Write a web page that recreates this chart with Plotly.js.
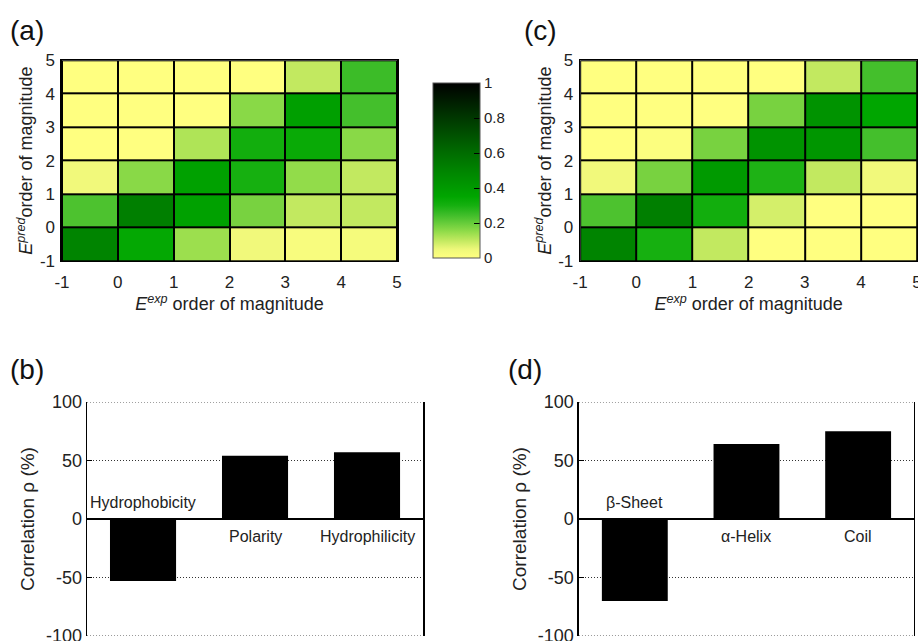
<!DOCTYPE html>
<html>
<head>
<meta charset="utf-8">
<script src="https://cdn.plot.ly/plotly-3.0.1.min.js"></script>
<style>html,body{margin:0;padding:0;background:#fff;}#chart{width:918px;height:641px;}</style>
</head>
<body>
<div id="chart"></div>
<script>
// Heatmap cell edges (order of magnitude)
const cellEdges = [-1, 0, 1, 2, 3, 4, 5];
const tickVals = [-1, 0, 1, 2, 3, 4, 5];
const tickText = ['-1', '0', '1', '2', '3', '4', '5'];

// Panel (a): rows from Epred=-1..0 (bottom) up to 4..5 (top); columns Eexp=-1..0 .. 4..5
const zA = [
  [0.50, 0.34, 0.14, 0.04, 0.02, 0.03],
  [0.23, 0.52, 0.37, 0.18, 0.10, 0.10],
  [0.04, 0.16, 0.37, 0.30, 0.15, 0.10],
  [0.00, 0.00, 0.12, 0.31, 0.33, 0.16],
  [0.00, 0.00, 0.00, 0.16, 0.38, 0.24],
  [0.00, 0.00, 0.00, 0.00, 0.10, 0.25]
];
// Panel (c)
const zC = [
  [0.50, 0.30, 0.10, 0.00, 0.00, 0.00],
  [0.23, 0.52, 0.31, 0.08, 0.00, 0.00],
  [0.04, 0.18, 0.40, 0.29, 0.10, 0.04],
  [0.00, 0.01, 0.18, 0.43, 0.42, 0.24],
  [0.00, 0.00, 0.00, 0.18, 0.43, 0.35],
  [0.00, 0.00, 0.00, 0.00, 0.10, 0.24]
];
const cbTicks = [0, 0.2, 0.4, 0.6, 0.8, 1];

// Panel (b)
const catsB = ['Hydrophobicity', 'Polarity', 'Hydrophilicity'];
const valsB = [-53, 54, 57];
// Panel (d)
const catsD = ['β-Sheet', 'α-Helix', 'Coil'];
const valsD = [-70, 64, 75];
const corrTicks = [-100, -50, 0, 50, 100];
const corrText = ['-100', '-50', '0', '50', '100'];

const FONT = 'Liberation Sans, Arial, Helvetica, sans-serif';
const TXT = '#222';

const colorscale = [
  [0.00, '#ffff80'], [0.05, '#eef87a'], [0.10, '#c2e960'], [0.15, '#92dc4a'],
  [0.20, '#66cc3a'], [0.25, '#3cbc28'], [0.30, '#16b010'], [0.35, '#00a600'],
  [0.40, '#009a00'], [0.50, '#008400'], [0.60, '#006c00'], [0.80, '#003800'],
  [1.00, '#000000']
];

const traces = [
  {type: 'heatmap', x: cellEdges, y: cellEdges, z: zA, coloraxis: 'coloraxis',
   xgap: 2, ygap: 2, xaxis: 'x', yaxis: 'y', hoverinfo: 'skip'},
  {type: 'heatmap', x: cellEdges, y: cellEdges, z: zC, coloraxis: 'coloraxis',
   xgap: 2, ygap: 2, xaxis: 'x2', yaxis: 'y2', hoverinfo: 'skip'},
  {type: 'bar', x: catsB, y: valsB, width: 0.59, marker: {color: '#000', line: {width: 0}},
   xaxis: 'x3', yaxis: 'y3', hoverinfo: 'skip'},
  {type: 'bar', x: catsD, y: valsD, width: 0.59, marker: {color: '#000', line: {width: 0}},
   xaxis: 'x4', yaxis: 'y4', hoverinfo: 'skip'}
];

function hmX(domain, anchor) {
  return {domain: domain, anchor: anchor, range: [-1, 5], tickvals: tickVals, ticktext: tickText,
    ticks: 'outside', ticklen: 5, tickcolor: 'rgba(0,0,0,0)', ticklabeloverflow: 'allow',
    showline: true, mirror: true, linecolor: '#000', linewidth: 1.5,
    showgrid: false, zeroline: false, tickfont: {size: 17, color: TXT},
    title: {text: '<i>E</i><sup><i>exp</i></sup> order of magnitude', font: {size: 18, color: TXT}, standoff: 4}};
}
function hmY(domain, anchor) {
  return {domain: domain, anchor: anchor, range: [-1, 5], tickvals: tickVals, ticktext: tickText,
    ticks: 'outside', ticklen: 2, tickcolor: 'rgba(0,0,0,0)', ticklabeloverflow: 'allow',
    showline: true, mirror: true, linecolor: '#000', linewidth: 1.5,
    showgrid: false, zeroline: false, tickfont: {size: 17, color: TXT},
    title: {text: '<i>E</i><sup><i>pred</i></sup>order of magnitude', font: {size: 18, color: TXT}, standoff: 2}};
}
function barX(domain, anchor) {
  return {domain: domain, anchor: anchor, showticklabels: false, ticks: '', showline: false,
    showgrid: false, zeroline: false};
}
function barY(domain, anchor) {
  return {domain: domain, anchor: anchor, range: [-100, 100], tickvals: corrTicks, ticktext: corrText,
    ticks: 'inside', ticklen: 5, tickcolor: '#000', tickwidth: 1, ticklabeloverflow: 'allow',
    showline: true, mirror: true, linecolor: '#000', linewidth: 1.5,
    showgrid: true, gridcolor: '#333', griddash: '1px,2px', gridwidth: 1,
    zeroline: true, zerolinecolor: '#000', zerolinewidth: 1.5,
    tickfont: {size: 18, color: TXT},
    title: {text: 'Correlation ρ (%)', font: {size: 19, color: TXT}, standoff: 6}};
}

const annotations = [];
function addBarLabels(cats, vals, xref, yref) {
  cats.forEach((c, i) => {
    annotations.push({xref: xref, yref: yref, x: c, y: vals[i] < 0 ? 14 : -15, text: c,
      showarrow: false, font: {size: 16, color: TXT, family: FONT}});
  });
}
addBarLabels(catsB, valsB, 'x3', 'y3');
addBarLabels(catsD, valsD, 'x4', 'y4');
[['(a)', 0.009, 0.953], ['(c)', 0.569, 0.953], ['(b)', 0.009, 0.423], ['(d)', 0.551, 0.423]].forEach(p => {
  annotations.push({xref: 'paper', yref: 'paper', x: p[1], y: p[2], xanchor: 'left', yanchor: 'middle',
    text: p[0], showarrow: false, font: {size: 28, color: '#111', family: FONT}});
});

const shapes = [];
// black backing so heatmap gaps appear as black cell borders
[['x', 'y'], ['x2', 'y2']].forEach(([xr, yr]) => shapes.push({type: 'rect', xref: xr + ' domain', yref: yr + ' domain',
  x0: 0, x1: 1, y0: 0, y1: 1, fillcolor: '#000', line: {width: 0}, layer: 'below'}));
// dotted grid lines at the range ends (Plotly omits edge gridlines)
[['x3', 'y3'], ['x4', 'y4']].forEach(([xr, yr]) => {
  [corrTicks[0], corrTicks[corrTicks.length - 1]].forEach(v => shapes.push({type: 'line',
    xref: xr + ' domain', yref: yr, x0: 0, x1: 1, y0: v, y1: v,
    line: {color: '#333', width: 1, dash: '1px,2px'}, layer: 'above'}));
});
// colorbar ticks on the left edge too (as in the reference)
const CB = {x0: 0.4717, w: 47, yBot: 0.734 - 87.5 / 641, yLen: 175 / 641};
cbTicks.slice(1, -1).forEach(t => shapes.push({type: 'line', xref: 'paper', yref: 'paper',
  x0: CB.x0, x1: CB.x0 + 6 / 918, y0: CB.yBot + t * CB.yLen, y1: CB.yBot + t * CB.yLen,
  line: {color: '#000', width: 1}}));

const layout = {
  width: 918, height: 641,
  margin: {l: 0, r: 0, t: 0, b: 0},
  paper_bgcolor: '#fff', plot_bgcolor: '#fff',
  font: {family: FONT, color: TXT},
  showlegend: false,
  coloraxis: {cmin: 0, cmax: 1, colorscale: colorscale,
    colorbar: {x: CB.x0, xanchor: 'left', y: 0.734, yanchor: 'middle',
      len: 175, lenmode: 'pixels', thickness: CB.w, thicknessmode: 'pixels',
      outlinecolor: '#555', outlinewidth: 1, tickvals: cbTicks, ticktext: cbTicks.map(String),
      ticks: 'inside', ticklen: 6, tickcolor: '#000', tickfont: {size: 15, color: TXT},
      xpad: 0, ypad: 0}},
  xaxis: hmX([0.0675, 0.4325], 'y'),
  yaxis: hmY([0.593, 0.906], 'x'),
  xaxis2: hmX([0.632, 0.999], 'y2'),
  yaxis2: hmY([0.593, 0.906], 'x2'),
  xaxis3: barX([0.0948, 0.4608], 'y3'),
  yaxis3: barY([0.0078, 0.3729], 'x3'),
  xaxis4: barX([0.6307, 0.9956], 'y4'),
  yaxis4: barY([0.0078, 0.3729], 'x4'),
  shapes: shapes,
  annotations: annotations
};

Plotly.newPlot('chart', traces, layout, {displayModeBar: false, staticPlot: true});
</script>
</body>
</html>
